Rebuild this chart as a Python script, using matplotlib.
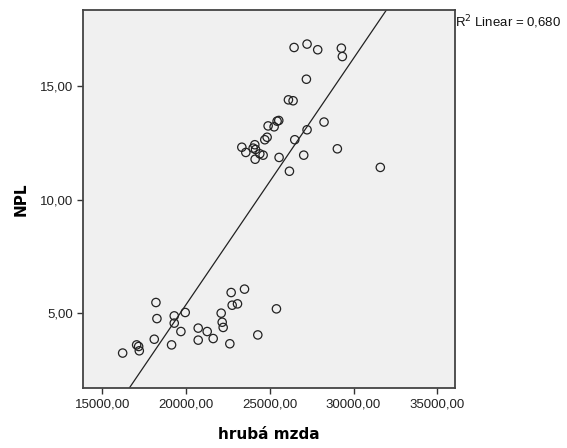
import numpy as np
import matplotlib
matplotlib.use('Agg')
from matplotlib import pyplot as plt
from matplotlib.ticker import FuncFormatter

# hruba mzda (x) and NPL (y)
mzda = [26451, 27226, 27862, 29274, 29334, 27186, 26113, 26391, 28240, 25437,
        25536, 24900, 25258, 24841, 24701, 26491, 27226, 23330, 24105, 24006,
        24150, 23568, 24403, 24602, 24125, 25556, 27027, 29035, 26173, 31600,
        16213, 17048, 17167, 17207, 18101, 18201, 18260, 19135, 19294, 19294,
        19692, 19950, 20725, 20725, 21262, 21620, 22097, 22157, 22216, 22614,
        22693, 22753, 23071, 23490, 24284, 25397]
npl = [16.72, 16.87, 16.62, 16.69, 16.32, 15.32, 14.41, 14.37, 13.43, 13.47,
       13.50, 13.26, 13.22, 12.76, 12.65, 12.65, 13.09, 12.32, 12.43, 12.28,
       12.22, 12.09, 12.03, 11.97, 11.79, 11.87, 11.97, 12.25, 11.26, 11.43,
       3.24, 3.60, 3.53, 3.34, 3.85, 5.47, 4.76, 3.60, 4.88, 4.56,
       4.19, 5.03, 4.34, 3.81, 4.19, 3.88, 5.00, 4.60, 4.37, 3.65,
       5.91, 5.35, 5.41, 6.06, 4.04, 5.19]
xticks = [15000, 20000, 25000, 30000, 35000]
yticks = [5, 10, 15]
r2_text = 'R$^2$ Linear = 0,680'

plt.rcParams['font.family'] = ['Liberation Sans', 'DejaVu Sans']

fig = plt.figure(figsize=(5.67, 4.48), dpi=100)
ax = fig.add_axes([0.147, 0.134, 0.655, 0.843])
ax.set_facecolor('#f0f0f0')

x = np.array(mzda)
y = np.array(npl)
ax.scatter(x, y, s=36, facecolors='none', edgecolors='#222222', linewidths=0.9, zorder=3)

# linear fit line
k, q = np.polyfit(x, y, 1)
xx = np.array([13000, 37000])
ax.plot(xx, k * xx + q, color='#222222', linewidth=0.9, zorder=2)

ax.set_xlim(13866, 36045)
ax.set_ylim(1.70, 18.36)
ax.set_xticks(xticks)
ax.set_yticks(yticks)
ax.xaxis.set_major_formatter(FuncFormatter(lambda v, p: ('%.2f' % v).replace('.', ',')))
ax.yaxis.set_major_formatter(FuncFormatter(lambda v, p: ('%.2f' % v).replace('.', ',')))
ax.tick_params(direction='out', length=4, width=1, color='#333333', labelsize=9.5, labelcolor='#222222')
for s in ax.spines.values():
    s.set_color('#444444')
    s.set_linewidth(1.3)

ax.set_xlabel('hrubá mzda', fontsize=11, fontweight='bold', family='DejaVu Sans', labelpad=12)
ax.set_ylabel('NPL', fontsize=11, fontweight='bold', family='DejaVu Sans', labelpad=8)

fig.text(0.803, 0.951, r2_text, fontsize=9.5, ha='left', va='center', color='#111111')

fig.savefig('out.png', dpi=100)
